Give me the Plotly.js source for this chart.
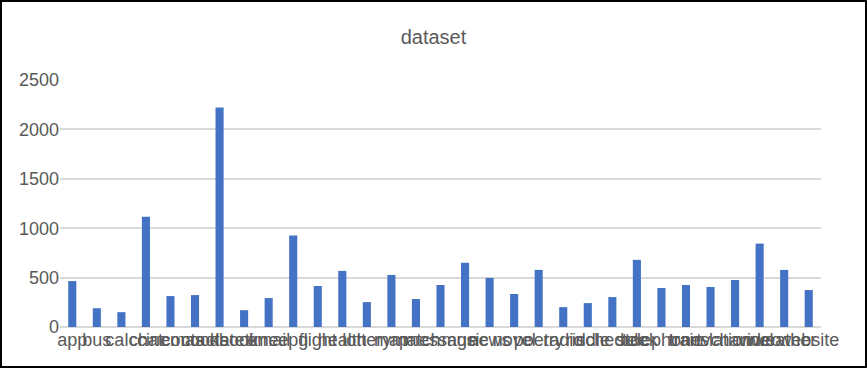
<!DOCTYPE html>
<html><head><meta charset="utf-8">
<script src="https://cdn.plot.ly/plotly-3.0.1.min.js"></script>
<style>
html,body{margin:0;padding:0;background:#fff;}
#wrap{position:relative;width:867px;height:368px;}
#chart{width:867px;height:368px;}
#frame{position:absolute;left:0;top:0;width:867px;height:368px;box-sizing:border-box;border:2px solid #000;pointer-events:none;}
</style></head>
<body>
<div id="wrap"><div id="chart"></div><div id="frame"></div></div>
<script>
const categories = ["app","bus","calc","chat","cinemas","contacts","cookbook","datetime","email","epg","flight","health","lottery","map","match","message","music","news","novel","poetry","radio","riddle","schedule","stock","telephone","train","translation","tvchannel","video","weather","website"];
const counts = [465,190,150,1115,313,323,2222,170,293,925,415,568,252,527,283,425,650,497,334,578,201,242,303,680,395,425,405,476,844,578,374];
const yTicks = [0,500,1000,1500,2000,2500];
const titleText = "dataset";

const fontFam = "'Liberation Sans', Arial, sans-serif";
Plotly.newPlot('chart', [{
  type: 'bar',
  x: categories,
  y: counts,
  marker: {color: '#4472C4'},
  hoverinfo: 'x+y'
}], {
  width: 867, height: 368,
  margin: {l: 60, r: 46, t: 80, b: 41},
  paper_bgcolor: '#fff', plot_bgcolor: '#fff',
  bargap: 0.67,
  showlegend: false,
  title: {text: titleText, x: 0.5, xanchor: 'center', y: 0.9, yanchor: 'middle', font: {family: fontFam, size: 20, color: '#595959'}},
  font: {family: fontFam, color: '#595959'},
  xaxis: {
    type: 'category',
    tickmode: 'array', tickvals: categories, ticktext: categories,
    tickangle: 0, ticks: '', showgrid: false, showline: false, zeroline: false,
    tickfont: {family: fontFam, size: 18, color: '#595959'},
    automargin: false
  },
  yaxis: {
    range: [0, 2500], tickmode: 'array', tickvals: yTicks, ticktext: yTicks.map(String),
    showgrid: true, gridcolor: '#d9d9d9', gridwidth: 2,
    zeroline: true, zerolinecolor: '#d9d9d9', zerolinewidth: 2,
    showline: false, ticks: '',
    tickfont: {family: fontFam, size: 18, color: '#595959'},
    automargin: false
  }
}, {displayModeBar: false, staticPlot: true});
</script>
</body></html>
